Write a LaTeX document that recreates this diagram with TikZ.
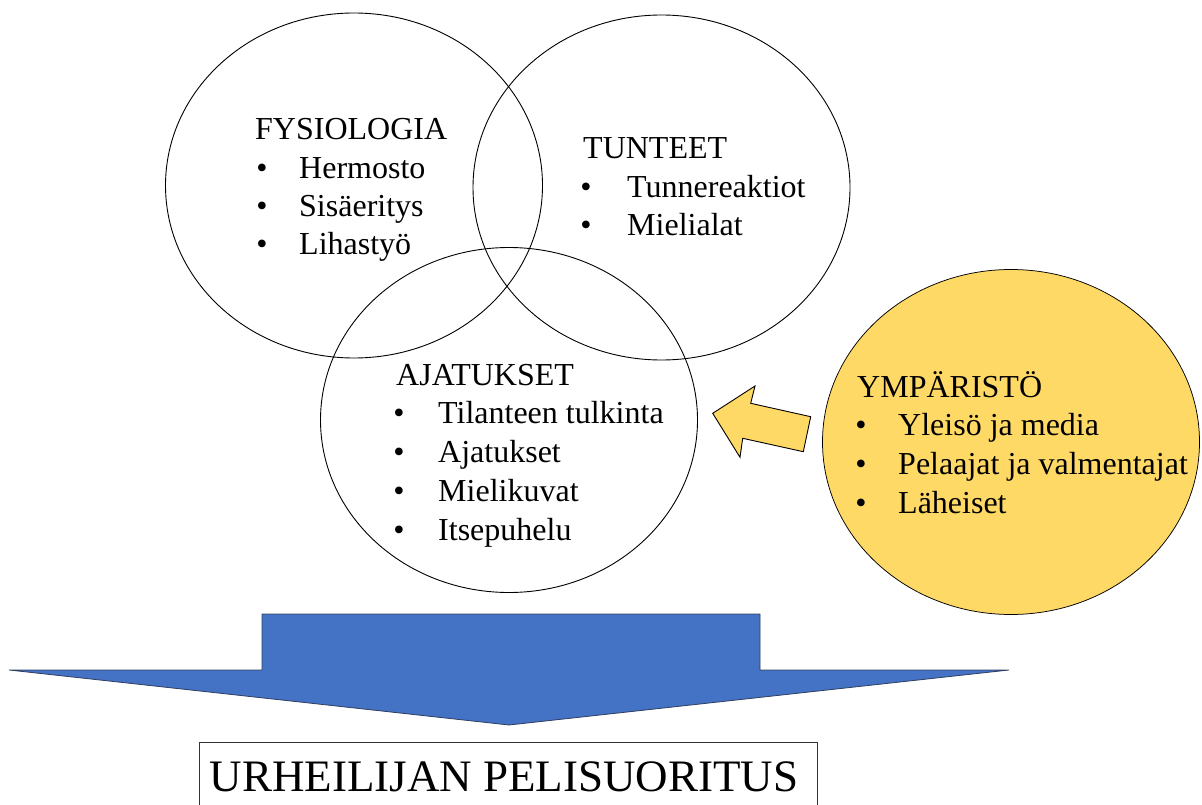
\documentclass[tikz,border=0pt]{standalone}
\usepackage{fontspec}
\setmainfont{Liberation Serif}
\usetikzlibrary{shapes.geometric}
\definecolor{gold}{HTML}{FFD966}
\definecolor{blockblue}{HTML}{4472C4}
\definecolor{blockedge}{HTML}{2F3F5F}
\begin{document}
\begin{tikzpicture}[x=1pt,y=-1pt,
  venn/.style={ellipse, draw=black, line width=0.9pt, inner sep=0pt, outer sep=0pt,
               minimum width=377pt, minimum height=345pt},
  txt/.style={inner sep=0pt, font=\fontsize{32}{38}\selectfont},
  title/.style={txt, anchor=base west},
  bul/.style={txt, anchor=base},
  item/.style={txt, anchor=base west}]
\useasboundingbox (0,0) rectangle (1202,805);
\clip (0,0) rectangle (1202,805);

% three overlapping circles
\node[venn] (fys) at (354,185.5) {};
\node[venn] (tun) at (661.5,187.5) {};
\node[venn] (aja) at (509,420) {};

% environment circle
\node[venn, fill=gold, line width=0.75pt] (ymp) at (1011,442) {};

% FYSIOLOGIA
\node[title] (fyst) at (255,140) {FYSIOLOGIA};
\foreach \t [count=\i] in {Hermosto, Sisäeritys, Lihastyö} {
  \node[bul] (fysb\i) at (262,140+38.3*\i) {•};
  \node[item] (fysi\i) at (299,140+38.3*\i) {\t};
}

% TUNTEET
\node[title] (tunt) at (583,159) {TUNTEET};
\foreach \t [count=\i] in {Tunnereaktiot, Mielialat} {
  \node[bul] (tunb\i) at (586,159+38.5*\i) {•};
  \node[item] (tuni\i) at (627,159+38.5*\i) {\t};
}

% AJATUKSET
\node[title] (ajat) at (396,385) {AJATUKSET};
\foreach \t [count=\i] in {Tilanteen tulkinta, Ajatukset, Mielikuvat, Itsepuhelu} {
  \node[bul] (ajab\i) at (399,385+38.8*\i) {•};
  \node[item] (ajai\i) at (438,385+38.8*\i) {\t};
}

% YMPÄRISTÖ
\node[title] (ympt) at (857,397) {YMPÄRISTÖ};
\foreach \t [count=\i] in {Yleisö ja media, Pelaajat ja valmentajat, Läheiset} {
  \node[bul] (ympb\i) at (861,397+38.7*\i) {•};
  \node[item] (ympi\i) at (898,397+38.7*\i) {\t};
}

% block arrow from the environment towards the thoughts
\draw[fill=gold, draw=black, line width=0.9pt, line join=miter]
  (712.7,413.3) -- (755,386) -- (750.7,403.3) -- (810.7,416.7)
  -- (803.3,451.7) -- (742.7,438.3) -- (740,457.3) -- cycle;

% large downward block arrow
\draw[fill=blockblue, draw=blockedge, line width=0.8pt, line join=miter]
  (262,614) -- (760,614) -- (760,670) -- (1009,670) -- (509,725)
  -- (9,670) -- (262,670) -- cycle;

% result box
\node[draw=black!80, line width=0.8pt, anchor=north west, inner sep=0pt,
      minimum width=618.3pt, minimum height=80pt] (perf) at (198.7,741.7) {};
\node[anchor=base, inner sep=0pt, font=\fontsize{45}{54}\selectfont]
  (perft) at (504,791) {URHEILIJAN PELISUORITUS};
\end{tikzpicture}
\end{document}
